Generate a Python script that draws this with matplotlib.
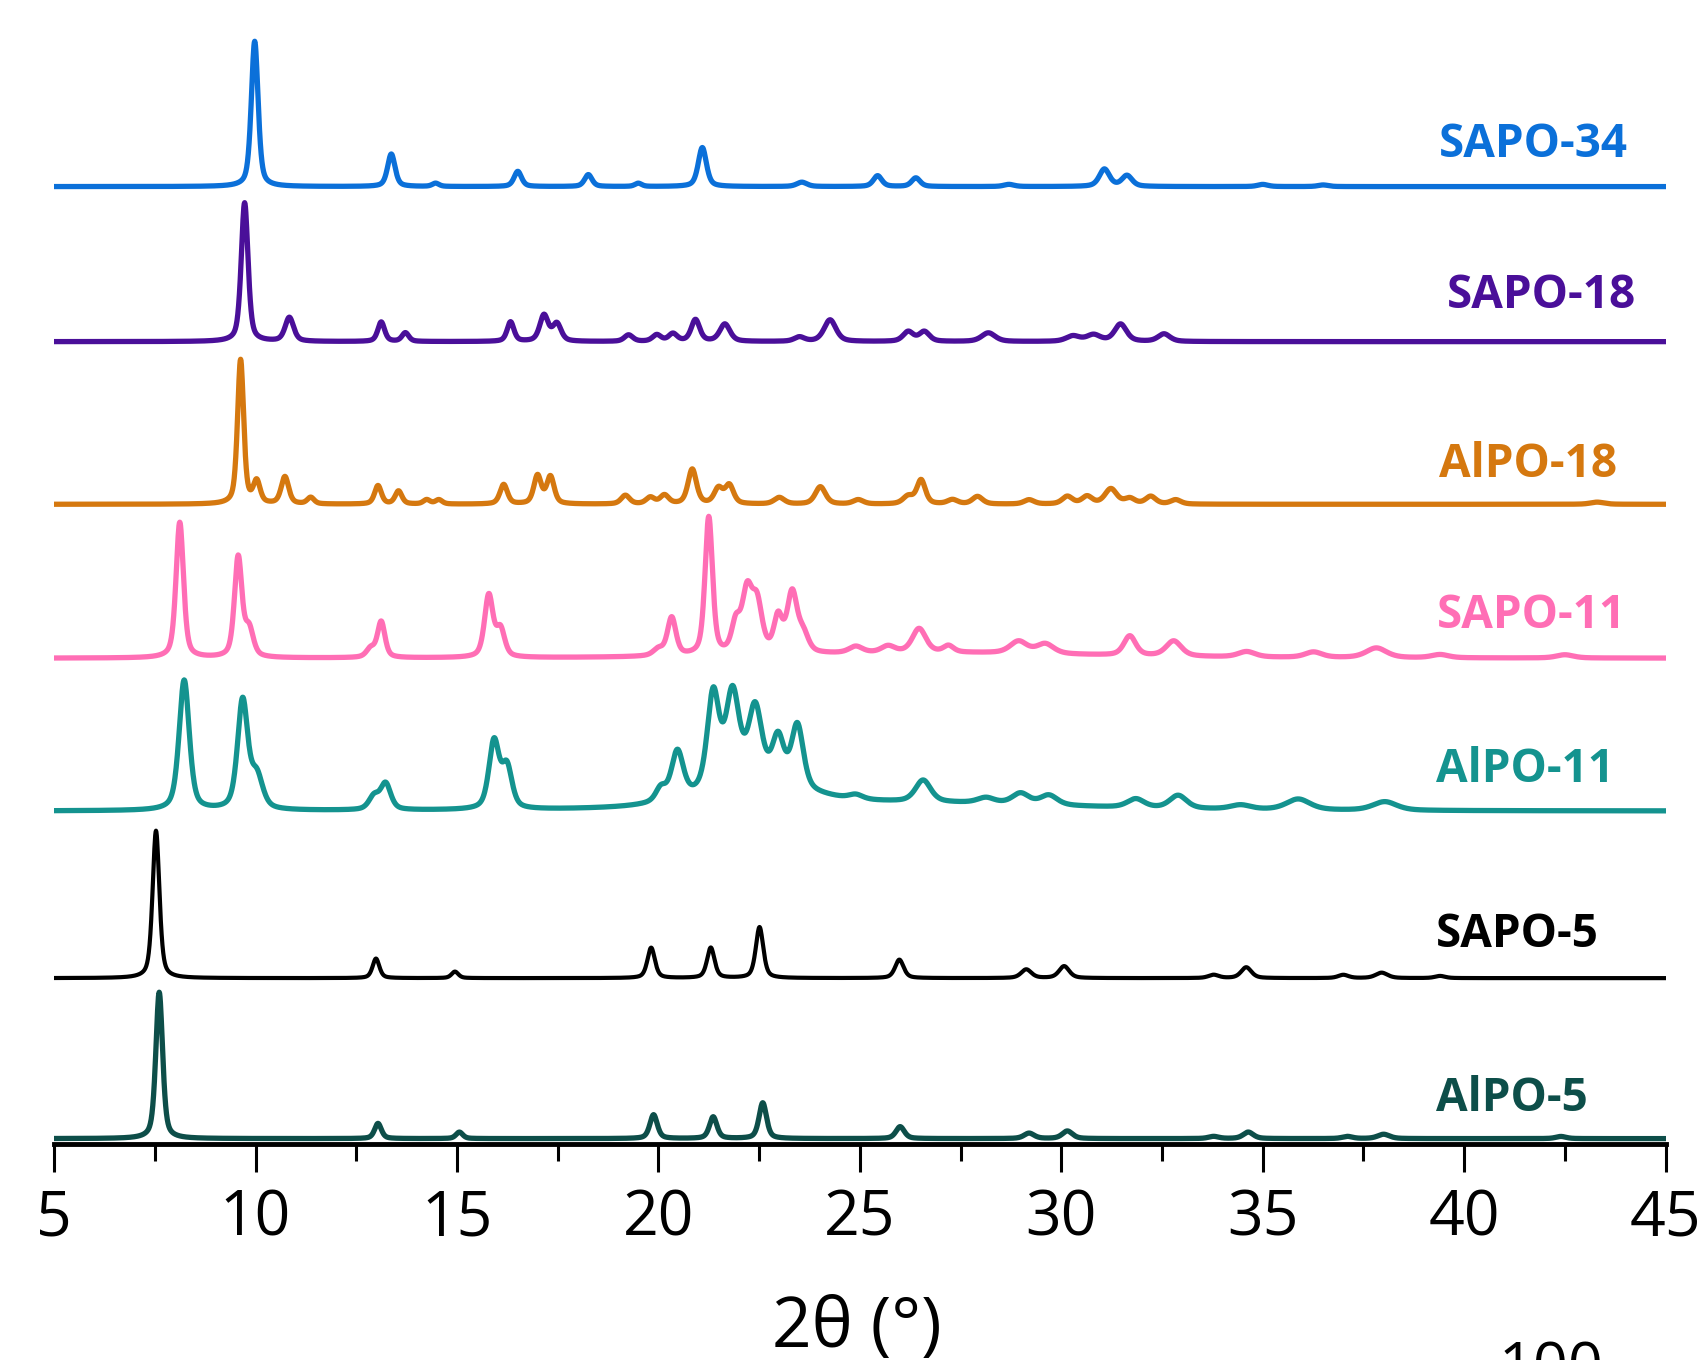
import numpy as np
import matplotlib
matplotlib.use("Agg")
import matplotlib.pyplot as plt
from matplotlib.ticker import MultipleLocator

plt.rcParams['font.family'] = ['Open Sans', 'DejaVu Sans']

# peak lists: (2theta, height, fwhm)
sapo34 = [(9.98, 134, 0.20), (13.37, 30, 0.22), (14.47, 3, 0.2), (16.51, 14, 0.22),
          (18.26, 11, 0.22), (19.5, 3, 0.2), (21.09, 36, 0.24), (23.56, 4, 0.3),
          (25.44, 10, 0.25), (26.39, 8, 0.25), (28.7, 2, 0.3), (31.07, 16, 0.3),
          (31.63, 10, 0.3), (35.0, 2, 0.3), (36.5, 1.5, 0.3)]
sapo18 = [(9.73, 128, 0.20), (10.84, 22, 0.25), (13.12, 18, 0.2), (13.72, 8, 0.2),
          (16.33, 18, 0.2), (17.16, 24, 0.25), (17.48, 16, 0.25), (19.26, 6, 0.25),
          (19.96, 6, 0.25), (20.36, 7, 0.25), (20.92, 20, 0.25), (21.65, 16, 0.3),
          (23.5, 4, 0.3), (24.26, 20, 0.35), (26.2, 9, 0.3), (26.6, 9, 0.3),
          (28.19, 8, 0.4), (30.29, 5, 0.4), (30.8, 6, 0.4), (31.47, 16, 0.35),
          (32.55, 7, 0.35)]
alpo18 = [(9.63, 133, 0.18), (10.03, 20, 0.2), (10.73, 25, 0.22), (11.37, 6, 0.2),
          (13.04, 17, 0.2), (13.55, 12, 0.2), (14.25, 4, 0.2), (14.55, 4, 0.2),
          (16.16, 18, 0.22), (17.0, 26, 0.22), (17.32, 25, 0.22), (19.18, 8, 0.25),
          (19.8, 6, 0.25), (20.15, 8, 0.25), (20.84, 32, 0.25), (21.49, 14, 0.25),
          (21.76, 17, 0.25), (23.0, 6, 0.3), (24.02, 16, 0.3), (24.96, 4, 0.3),
          (26.2, 7, 0.3), (26.52, 22, 0.25), (27.3, 4, 0.3), (27.92, 7, 0.3),
          (29.2, 4, 0.3), (30.15, 7, 0.3), (30.64, 7, 0.3), (31.23, 14, 0.35),
          (31.7, 5, 0.3), (32.22, 7, 0.3), (32.84, 4, 0.3), (43.3, 2, 0.4)]
sapo11 = [(8.12, 125, 0.22), (9.57, 92, 0.22), (9.84, 25, 0.25), (12.86, 8, 0.25),
          (13.12, 33, 0.22), (15.79, 57, 0.25), (16.08, 25, 0.25), (20.0, 6, 0.3),
          (20.33, 35, 0.25), (21.25, 127, 0.22), (21.92, 26, 0.25), (22.2, 55, 0.3),
          (22.45, 44, 0.3), (22.97, 32, 0.25), (23.32, 55, 0.3), (23.6, 16, 0.3),
          (24.9, 6, 0.4), (25.7, 6, 0.4), (26.47, 22, 0.4), (27.2, 6, 0.3),
          (28.94, 11, 0.5), (29.6, 9, 0.5), (31.7, 18, 0.35), (32.79, 14, 0.45),
          (34.6, 5, 0.5), (36.26, 5, 0.5), (37.82, 9, 0.6), (39.4, 3, 0.5), (42.5, 3, 0.5),
          (27.0, 5, 9.0)]
alpo11 = [(8.23, 120, 0.30), (9.68, 100, 0.30), (10.03, 30, 0.35), (12.94, 12, 0.3),
          (13.23, 24, 0.3), (15.92, 62, 0.3), (16.24, 38, 0.3), (20.06, 12, 0.3),
          (20.47, 44, 0.35), (21.36, 88, 0.35), (21.84, 84, 0.4), (22.4, 68, 0.4),
          (22.97, 42, 0.35), (23.45, 58, 0.35), (24.9, 4, 0.4), (26.57, 20, 0.45),
          (28.13, 5, 0.5), (28.99, 10, 0.5), (29.69, 9, 0.5), (31.85, 8, 0.5),
          (32.9, 12, 0.5), (34.45, 4, 0.6), (35.88, 10, 0.7), (38.03, 8, 0.7),
          (22.4, 20, 3.0), (26.5, 7, 9.0)]
sapo5 = [(7.53, 136, 0.20), (12.99, 18, 0.2), (14.95, 6, 0.2), (19.82, 28, 0.22),
         (21.3, 28, 0.22), (22.51, 47, 0.22), (25.98, 17, 0.25), (29.13, 8, 0.3),
         (30.07, 11, 0.3), (33.78, 3, 0.3), (34.59, 10, 0.3), (37.0, 3, 0.3),
         (37.95, 5, 0.35), (39.4, 2, 0.3)]
alpo5 = [(7.61, 135, 0.20), (13.04, 14, 0.2), (15.06, 6, 0.2), (19.88, 22, 0.22),
         (21.36, 20, 0.22), (22.59, 33, 0.22), (26.0, 11, 0.25), (29.2, 5, 0.3),
         (30.15, 7, 0.3), (33.78, 2, 0.3), (34.64, 6, 0.3), (37.1, 2, 0.3),
         (38.0, 4, 0.35), (42.4, 2, 0.3)]

names = ['SAPO-34', 'SAPO-18', 'AlPO-18', 'SAPO-11', 'AlPO-11', 'SAPO-5', 'AlPO-5']
peaks = [sapo34, sapo18, alpo18, sapo11, alpo11, sapo5, alpo5]
offsets = [883, 740, 590, 448, 307, 153, 5]
colors = ['#0B70D9', '#4A0F99', '#D5780F', '#FF6EB5', '#14938F', '#000000', '#0D4E49']
label_pos = [(41.72, 922), (41.91, 783), (41.58, 627), (41.66, 487),
             (41.5, 345), (41.31, 193), (41.18, 42)]

x = np.linspace(5, 45, 4001)


def pattern(plist):
    y = np.zeros_like(x)
    for pos, h, w in plist:
        d = 4 * (x - pos) ** 2 / w ** 2
        y += h * (0.5 * np.exp(-np.log(2) * d) + 0.5 / (1 + d))
    return y


fig = plt.figure(figsize=(17, 13.6), dpi=100)
ax = fig.add_axes([0.0318, 0.1588, 0.948, 0.8212])

for name, plist, off, c, (lx, ly) in zip(names, peaks, offsets, colors, label_pos):
    lw = 3.0 if c == '#000000' else 3.8
    ax.plot(x, pattern(plist) + off, color=c, lw=lw)
    ax.text(lx, ly, name, color=c, fontsize=33, fontweight='bold',
            ha='center', va='center')

ax.set_xlim(5, 45)
ax.set_ylim(0, 1030)
ax.xaxis.set_major_locator(MultipleLocator(5))
ax.xaxis.set_minor_locator(MultipleLocator(2.5))
ax.tick_params(axis='x', which='major', direction='out', length=20, width=2.2,
               labelsize=45, pad=12)
ax.tick_params(axis='x', which='minor', direction='out', length=12, width=2.2)
ax.set_yticks([])
for s in ['top', 'left', 'right']:
    ax.spines[s].set_visible(False)
ax.spines['bottom'].set_linewidth(3.5)

fig.text(857 / 1700, 1 - 1294 / 1360, '2θ (°)', fontsize=50, ha='center', va='top')
fig.text(1551 / 1700, 1 - 1340 / 1360, '100', fontsize=44, ha='center', va='top')

fig.savefig('out.png', dpi=100)
